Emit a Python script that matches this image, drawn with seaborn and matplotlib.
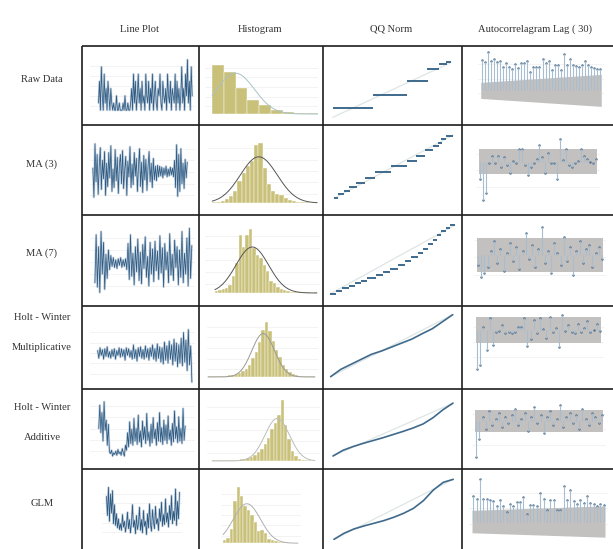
import numpy as np
import pandas as pd
import matplotlib
matplotlib.use("Agg")
import matplotlib.pyplot as plt
import seaborn as sns

W, H = 613, 549

col_titles = ["Line Plot", "Histogram", "QQ Norm", "Autocorrelagram Lag ( 30)"]
row_titles = [["Raw Data"], ["MA (3)"], ["MA (7)"], ["Holt - Winter", "Multiplicative"],
              ["Holt - Winter", "Additive"], ["GLM"]]

# ---- line plot series ----
raw_line = [1, 4, 0, 6, 2, 0, 5, 1, 3, 0, 4, 2, 0, 3, 1,
            0, 1, 0, 0, 2, 0, 0, 1, 0, 0, 0, 1, 0, 2, 0, 0, 1, 0, 0, 1,
            3, 0, 5, 1, 4, 0, 2, 5, 1, 3, 0, 4, 1, 2, 0, 5, 2, 1, 4, 0, 3, 1, 5, 0, 2, 4, 1, 0, 3, 2,
            5, 1, 0, 4, 2, 1, 3, 0, 5, 2, 1, 4, 0, 3, 2, 1, 5, 0, 4, 1, 3, 0, 2, 6, 1, 3, 0, 5, 2, 7,
            1, 4, 0, 6, 2]
ma3_line = [0.4, -2.6, 2.9, -1.0, 1.8, -2.3, 0.6, 2.5, -1.8, 1.2, -0.7, 2.1, -2.4, 0.9, -1.5, 2.0,
            -0.6, 2.7, -2.0, 0.3, -1.6, 2.3, -0.9, 1.5, -2.2, 0.7, 1.8, -1.2, 2.2, -1.7, 0.2, 1.6,
            -2.4, 1.1, -0.5, 2.6, -1.6, 0.8, -1.3, 2.0, -0.4, 1.4, -2.0, 0.6, 2.4, -1.5, 1.0, -2.1,
            1.7, -0.8, 1.3, -1.9, 0.5, 2.1, -1.0, 0.9, -1.6, 1.4, -0.8, 0.6, -0.9, 0.7, -0.5, 0.6,
            -0.4, 0.5, -0.6, 0.4, -0.3, 0.6, -0.5, 0.3, -0.4, 0.5, -0.3, 0.4, -0.5, 1.2, -1.6, 2.8,
            -2.5, 1.8, -2.0, 2.4, -1.2, 0.9, -1.7, 1.3, -0.6, 1.0]
ma7_line = [-1.8, 2.6, -2.2, 1.5, -2.7, 2.9, -1.0, 1.9, -2.4, 0.8, -1.4, 1.2, -0.6, 0.7, -0.3, 0.5,
            -0.4, 0.3, -0.5, 0.4, -0.2, 0.5, -0.4, 0.3, -0.3, 0.4, -0.6, 1.8, -1.5, 2.6, -1.2, 0.9,
            -2.0, 1.5, -0.8, 2.2, -1.6, 1.0, -1.9, 1.7, -0.5, 2.4, -1.3, 0.6, -2.1, 1.9, -1.0, 1.3,
            -1.7, 2.0, -0.7, 1.1, -1.5, 2.5, -0.9, 1.4, -2.2, 1.8, -0.6, 1.0, -1.8, 2.7, -1.1, 0.8,
            -1.6, 2.1, -0.4, 1.5, -2.0, 1.2, -1.3, 2.9, -1.8, 0.9, -1.0, 2.3, -2.1, 3.2, -1.4, 1.6]
hwm_line = [0.3, -0.5, 0.6, -0.2, 0.4, -0.6, 0.5, -0.3, 0.7, -0.4, 0.2, -0.5, 0.4, -0.3, 0.5, -0.6,
            0.3, -0.2, 0.6, -0.4, 0.5, -0.3, 0.4, -0.7, 0.6, -0.2, 0.5, -0.4, 0.3, -0.6, 0.9, -0.5,
            0.4, -0.8, 0.6, -0.3, 0.7, -0.5, 0.4, -0.6, 0.8, -0.4, 0.5, -0.7, 0.6, -0.3, 0.9, -0.6,
            0.5, -0.8, 1.0, -0.5, 0.7, -0.9, 0.6, -1.1, 1.2, -0.7, 0.8, -1.0, 1.3, -0.6, 0.9, -1.2,
            1.5, -0.8, 1.1, -1.4, 0.9, -1.0, 1.6, -1.3, 2.2, -0.9, 1.4, -1.8, 2.5, -1.2, 0.8, -3.0]
hwa_line = [1.0, 3.8, 0.5, 2.9, -0.5, 4.2, 0.8, 2.0, -1.0, 1.5, -1.8, -2.0, -1.6, -2.3, -1.9, -2.1,
            -1.7, -2.2, -1.5, -2.0, -1.8, -2.2, -1.4, -1.9, -2.3, -1.0, -1.6, 0.5, -1.2, 1.8, -0.8,
            0.9, -1.0, 2.2, -0.5, 1.0, -0.9, 2.6, -0.6, 0.7, -1.2, 1.9, -0.3, 1.2, -0.8, 2.8, -0.4,
            0.6, -1.1, 1.5, -0.7, 2.3, -0.2, 0.9, -1.0, 1.7, -0.5, 2.9, -0.6, 1.1, -0.9, 2.0, -0.4,
            1.4, -0.8, 2.5, -0.3, 0.8, -1.0, 1.6, -0.6, 3.1, -0.2, 1.2, -0.7, 2.4, -0.5, 1.0, -0.8,
            3.4, -0.4, 1.3]
glm_line = [2.5, 0.2, 3.6, -0.5, 2.8, 0.5, 3.2, -0.8, 1.5, -1.0, 0.4, -1.3, -0.2, -1.5, -0.8, -1.6,
            0.3, -1.2, -0.5, -1.8, -0.9, 0.6, -1.4, -0.3, -1.9, -0.7, 1.5, -1.2, -0.4, -2.0, 0.2,
            -1.5, -0.8, 1.2, -1.6, -0.3, -1.9, 0.8, -1.1, -0.5, -2.1, 0.4, -1.3, 1.6, -0.9, -1.7,
            0.9, -0.6, -1.4, 1.3, -0.8, -0.2, -1.6, 1.0, -0.5, 1.8, -1.1, 0.3, -0.9, 2.2, -0.6, 0.5,
            -1.2, 1.4, -0.3, 2.6, -0.8, 0.7, -0.4, 3.4, -1.0, 1.9, -0.2, 3.0]

# ---- histogram bin heights (relative) and fitted normal (centre bin, sd in bins, peak) ----
raw_hist = [1.0, 0.85, 0.52, 0.28, 0.18, 0.075, 0.034, 0.02, 0.014]
ma3_hist = [0.01, 0.02, 0.03, 0.06, 0.12, 0.20, 0.36, 0.50, 0.62, 0.70, 0.97, 1.0, 0.58, 0.32, 0.20,
            0.15, 0.14, 0.08, 0.05, 0.03, 0.02, 0.01, 0.01, 0.0, 0.01]
ma7_hist = [0.03, 0.04, 0.06, 0.08, 0.13, 0.26, 0.47, 0.91, 0.72, 0.91, 1.0, 0.70, 0.60, 0.55, 0.44,
            0.34, 0.18, 0.16, 0.10, 0.07, 0.05, 0.03, 0.02, 0.02, 0.02, 0.015, 0.01, 0.01, 0.005, 0.01]
hwm_hist = [0.01, 0.01, 0.01, 0.015, 0.02, 0.02, 0.03, 0.03, 0.05, 0.07, 0.10, 0.14, 0.22, 0.34, 0.46,
            0.64, 0.85, 1.0, 0.84, 0.66, 0.50, 0.36, 0.22, 0.14, 0.09, 0.05, 0.03, 0.02, 0.015, 0.01,
            0.01, 0.01]
hwa_hist = [0.01, 0.01, 0.01, 0.01, 0.01, 0.02, 0.02, 0.02, 0.03, 0.04, 0.05, 0.07, 0.10, 0.14, 0.20,
            0.28, 0.38, 0.52, 0.62, 0.75, 1.0, 0.60, 0.36, 0.16, 0.08, 0.04, 0.02, 0.01, 0.01, 0.0]
glm_hist = [0.05, 0.10, 0.25, 0.75, 1.0, 0.84, 0.66, 0.58, 0.50, 0.38, 0.22, 0.24, 0.18, 0.08, 0.05,
            0.03, 0.02, 0.02, 0.015, 0.01, 0.01, 0.01]
hist_fit = [(2.0, 1.6, 0.83), (11.1, 4.4, 0.77), (11.0, 4.8, 0.72), (16.5, 3.4, 0.79),
            (19.0, 3.6, 0.70), (7.0, 4.0, 0.70)]

# ---- QQ plots: step segments (x start, x end, sample value) ----
raw_qq_x0 = [-3.0, -0.93, 0.80, 1.81, 2.39, 2.76]
raw_qq_x1 = [-0.93, 0.80, 1.86, 2.42, 2.80, 3.0]
raw_qq_y = [3.6, 7.4, 11.8, 15.2, 16.8, 17.3]
ma3_qq_x0 = [-3.0, -2.78, -2.50, -2.23, -1.89, -1.44, -0.94, -0.15, 0.69, 1.12, 1.56, 1.99, 2.23, 2.41, 2.63]
ma3_qq_x1 = [-2.78, -2.50, -2.20, -1.86, -1.44, -0.94, -0.15, 0.69, 1.16, 1.58, 1.99, 2.26, 2.46, 2.66, 3.0]
ma3_qq_y = [1.7, 2.7, 3.8, 4.8, 6.2, 7.5, 9.3, 11.2, 12.7, 14.3, 15.9, 17.2, 18.2, 19.2, 20.2]
ma7_qq_x0 = [-3.0, -2.7, -2.4, -2.1, -1.8, -1.5, -1.2, -0.8, -0.45, -0.1, 0.25, 0.6, 0.9, 1.2, 1.45,
             1.7, 1.95, 2.15, 2.35, 2.55, 2.75]
ma7_qq_x1 = [-2.7, -2.4, -2.1, -1.8, -1.5, -1.2, -0.8, -0.45, -0.1, 0.25, 0.6, 0.9, 1.2, 1.45, 1.7,
             1.95, 2.15, 2.35, 2.55, 2.75, 3.0]
ma7_qq_y = [1.0, 1.8, 2.6, 3.3, 4.0, 4.7, 5.4, 6.2, 7.0, 7.9, 8.9, 10.0, 11.1, 12.3, 13.5, 14.8, 16.0,
            17.2, 18.3, 19.2, 20.0]
# smooth QQ curves
qq_q = [-3, -2.5, -2, -1.5, -1, -0.5, 0, 0.5, 1, 1.5, 2, 2.5, 3]
hwm_qq = [1.0, 3.2, 4.7, 6.2, 7.7, 8.7, 9.9, 11.1, 12.3, 13.9, 15.4, 17.5, 19.6]
hwa_qq = [1.0, 3.0, 4.3, 5.4, 6.4, 7.4, 8.5, 9.6, 10.8, 12.2, 14.4, 17.2, 19.5]
glm_qq = [1.2, 3.0, 4.3, 5.2, 6.0, 6.8, 7.8, 9.0, 10.5, 12.8, 16.0, 18.3, 19.2]
qq_ref = [(0.8, 17.2), (1.5, 20.5), (1.0, 20.0), (1.0, 19.6), (1.0, 19.5), (1.2, 19.2)]

# ---- autocorrelations (40 lags) and confidence band (first lag, last lag) ----
raw_acf = [0.76, 0.71, 0.97, 0.73, 0.78, 0.71, 0.73, 0.58, 0.68, 0.59, 0.53, 0.66, 0.56, 0.69,
           0.68, 0.73, 0.46, 0.58, 0.59, 0.59, 0.79, 0.68, 0.74, 0.51, 0.64, 0.64, 0.51, 0.91,
           0.64, 0.79, 0.64, 0.61, 0.59, 0.63, 0.73, 0.64, 0.59, 0.56, 0.54, 0.53]
ma3_acf = [-0.42, -0.96, -0.79, -0.04, 0.14, -0.03, 0.14, -0.12, 0.12, -0.08, -0.29, 0.02, -0.04,
           0.31, 0.31, -0.07, -0.33, -0.12, -0.04, 0.06, 0.42, 0.12, -0.29, 0.21, -0.03, -0.04,
           -0.44, 0.56, 0.04, 0.33, -0.08, -0.12, -0.04, 0.03, 0.33, 0.14, 0.08, 0.0, -0.04, 0.08]
ma7_acf = [-0.25, -0.55, -0.45, -0.30, 0.10, 0.35, -0.20, 0.15, -0.40, 0.05, 0.30, -0.15, 0.20,
           -0.35, 0.10, 0.55, -0.10, 0.25, -0.30, 0.15, 0.70, -0.20, 0.10, -0.45, 0.30, 0.05, -0.25,
           0.45, -0.15, 0.20, -0.50, 0.10, 0.35, -0.20, 0.15, 0.25, -0.30, 0.05, 0.20, -0.10]
hwm_acf = [-0.98, -0.88, 0.07, -0.50, 0.29, -0.38, -0.04, -0.02, 0.12, -0.08, -0.04, -0.08, -0.04,
           0.08, 0.08, 0.29, -0.40, -0.23, 0.25, -0.08, 0.29, 0.02, -0.21, 0.33, -0.04, 0.04, -0.42,
           0.38, -0.02, 0.12, -0.04, -0.08, 0.15, -0.04, 0.04, 0.23, -0.04, 0.0, 0.15, -0.02]
hwa_acf = [-0.90, -0.45, 0.10, -0.20, 0.25, -0.10, 0.05, 0.20, -0.15, 0.10, -0.05, 0.15, 0.30,
           -0.10, 0.05, 0.20, -0.25, 0.10, 0.35, -0.05, 0.15, -0.30, 0.10, 0.25, -0.10, 0.05, 0.40,
           -0.15, 0.10, 0.20, -0.05, 0.15, -0.20, 0.30, 0.05, -0.10, 0.20, 0.10, -0.05, 0.15]
glm_acf = [0.63, 0.56, 1.06, 0.56, 0.56, 0.54, 0.50, 0.39, 0.53, 0.38, 0.23, 0.44, 0.38, 0.48, 0.49,
           0.61, 0.19, 0.42, 0.42, 0.39, 0.71, 0.56, 0.29, 0.54, 0.53, 0.29, 0.28, 0.88, 0.53, 0.78,
           0.50, 0.44, 0.53, 0.46, 0.64, 0.46, 0.44, 0.39, 0.44, 0.41]
acf_band = [(0.20, 0.40), (0.31, 0.31), (0.42, 0.42), (0.33, 0.33), (0.28, 0.28), (0.28, 0.39)]

lines = [raw_line, ma3_line, ma7_line, hwm_line, hwa_line, glm_line]
hists = [raw_hist, ma3_hist, ma7_hist, hwm_hist, hwa_hist, glm_hist]
qq_steps = [(raw_qq_x0, raw_qq_x1, raw_qq_y), (ma3_qq_x0, ma3_qq_x1, ma3_qq_y),
            (ma7_qq_x0, ma7_qq_x1, ma7_qq_y), None, None, None]
qq_curves = [None, None, None, hwm_qq, hwa_qq, glm_qq]
acfs = [raw_acf, ma3_acf, ma7_acf, hwm_acf, hwa_acf, glm_acf]

# ---- layout (pixels) ----
row_edges = [46, 125, 215, 306, 389, 469]
col_edges = [82, 199, 323, 462]
row_label_y = [[79], [164], [253], [317, 347], [407, 437], [504]]

line_box = [(90, 56, 195, 116), (90, 137, 195, 207), (90, 226, 195, 298),
            (90, 322, 195, 384), (90, 395, 195, 462), (102, 484, 182, 542)]
line_ylim = [(-0.8, 7.5), (-3.6, 3.6), (-3.2, 3.4), (-3.2, 3.3), (-3.0, 5.0), (-3.0, 4.0)]
line_xpad = [(0.09, 0.02), (0.03, 0.07), (0.05, 0.02), (0.08, 0.02), (0.10, 0.10), (0.06, 0.02)]

hist_box = [(205, 58, 318, 116), (208, 137, 318, 205), (205, 224, 320, 296),
            (207, 316, 318, 380), (207, 396, 320, 464), (221, 484, 301, 546)]
hist_xlim = [(-0.6, 9.0), (-1.0, 25.2), (-2.9, 30.9), (-0.3, 32.9), (-1.5, 31.5), (-0.6, 22.9)]
hist_ylim = [(-0.04, 1.14), (-0.033, 1.1), (-0.047, 1.08), (-0.055, 1.11), (-0.05, 1.07), (-0.05, 1.05)]
hist_curve_col = ["#a9c2c9", "#555555", "#555555", "#9a9a9a", "#bdbdbd", "#b0b0b0"]

qq_box = [(330, 60, 454, 120), (331, 133, 456, 203), (326, 220, 459, 298),
          (328, 310, 456, 382), (330, 398, 456, 462), (331, 475, 456, 545)]
qq_xlim = [(-3.14, 3.17), (-3.15, 3.14), (-3.19, 3.19), (-3.13, 3.16), (-3.15, 3.15), (-3.15, 3.14)]
qq_ylim = [(0, 18), (0.1, 21.1), (-0.1, 21.4), (-0.6, 21), (-1.1, 21.3), (-0.5, 20.5)]

acf_box = [(478, 50, 604, 108), (476, 137, 600, 203), (474, 222, 606, 292),
           (473, 312, 604, 372), (472, 398, 606, 460), (469, 477, 608, 540)]
acf_ylim = [(-0.44, 1.01), (-1.03, 0.62), (-0.93, 0.83), (-1.05, 0.45), (-0.98, 0.58), (-0.46, 1.11)]

LINE_C = "#1d4d78"
HALO_C = "#8fa9c4"
HIST_C = "#c9c07a"
QQ_C = "#3f6a8c"
STEM_C = "#a8bdd0"
DOT_C = "#4d7193"
BAND_C = "#c3c1bf"
GRID_C = "#f1f1f1"

sns.set_style("white")
plt.rcParams['font.family'] = ['Liberation Serif', 'DejaVu Serif']

fig = plt.figure(figsize=(W / 100, H / 100), dpi=100)


def px_axes(box):
    x0, y0, x1, y1 = box
    return fig.add_axes([x0 / W, 1 - y1 / H, (x1 - x0) / W, (y1 - y0) / H])


def clean(ax, ylim, nlev=5):
    ax.set_ylim(*ylim)
    ax.set_yticks(np.linspace(ylim[0], ylim[1], nlev + 2)[1:-1])
    ax.set_xticks([])
    ax.grid(axis="y", color=GRID_C, lw=0.6)
    ax.tick_params(labelleft=False, labelbottom=False, length=0)
    ax.set_xlabel("")
    ax.set_ylabel("")
    sns.despine(ax=ax, left=True, bottom=True)
    ax.set_axisbelow(True)


# background axis for the table frame and labels
bg = fig.add_axes([0, 0, 1, 1])
bg.set_xlim(0, W)
bg.set_ylim(H, 0)
bg.axis("off")
bg.hlines(row_edges, col_edges[0], W, color="#1e1e1e", lw=1.2)
bg.vlines(col_edges, row_edges[0], H, color="#1e1e1e", lw=1.2)
for cx, t in zip([140, 260, 391, 535], col_titles):
    bg.text(cx, 29, t, ha="center", va="center", fontsize=7.6, color="#333333")
for labels, ys in zip(row_titles, row_label_y):
    for t, y in zip(labels, ys):
        bg.text(42, y, t, ha="center", va="center", fontsize=7.6, color="#333333")

for i in range(6):
    # line plot: light halo plus darker core
    ax = px_axes(line_box[i])
    s = lines[i]
    n = len(s)
    sns.lineplot(x=np.arange(n), y=s, ax=ax, color=HALO_C, lw=1.6, alpha=0.45)
    sns.lineplot(x=np.arange(n), y=s, ax=ax, color=LINE_C, lw=0.55, alpha=0.9)
    ax.set_xlim(-n * line_xpad[i][0], n * (1 + line_xpad[i][1]))
    clean(ax, line_ylim[i])

    # histogram
    ax = px_axes(hist_box[i])
    h = hists[i]
    nb = len(h)
    hdf = pd.DataFrame({"bin": np.arange(nb) + 0.5, "height": h})
    sns.histplot(data=hdf, x="bin", weights="height", bins=nb, binrange=(0, nb), ax=ax,
                 color=HIST_C, edgecolor="white", linewidth=0.3, alpha=1)
    mu, sd, pk = hist_fit[i]
    xs = np.linspace(0, nb, 200)
    ax.plot(xs, pk * np.exp(-0.5 * ((xs - mu) / sd) ** 2), color=hist_curve_col[i], lw=0.7)
    ax.set_xlim(*hist_xlim[i])
    clean(ax, hist_ylim[i])

    # QQ plot
    ax = px_axes(qq_box[i])
    r0, r1 = qq_ref[i]
    ax.plot([-3, 3], [r0, r1], color="#dde5e5", lw=0.9)
    if qq_steps[i] is not None:
        x0, x1, yv = qq_steps[i]
        ax.hlines(yv, x0, x1, color=QQ_C, lw=1.4)
    else:
        sns.lineplot(x=qq_q, y=qq_curves[i], ax=ax, color=QQ_C, lw=1.2, sort=False)
    ax.set_xlim(*qq_xlim[i])
    clean(ax, qq_ylim[i])
    ax.grid(False)

    # autocorrelogram
    ax = px_axes(acf_box[i])
    a = acfs[i]
    lags = np.arange(1, len(a) + 1)
    b0, b1 = acf_band[i]
    ax.fill_between([0.6, len(a) + 0.4], [-b0, -b1], [b0, b1], color=BAND_C, lw=0)
    ax.vlines(lags, 0, a, color=STEM_C, lw=0.8)
    sns.scatterplot(x=lags, y=a, ax=ax, s=3, color=DOT_C, linewidth=0)
    ax.set_xlim(-0.3, len(a) + 1.3)
    clean(ax, acf_ylim[i], nlev=3)

fig.savefig("out.png", dpi=100)
